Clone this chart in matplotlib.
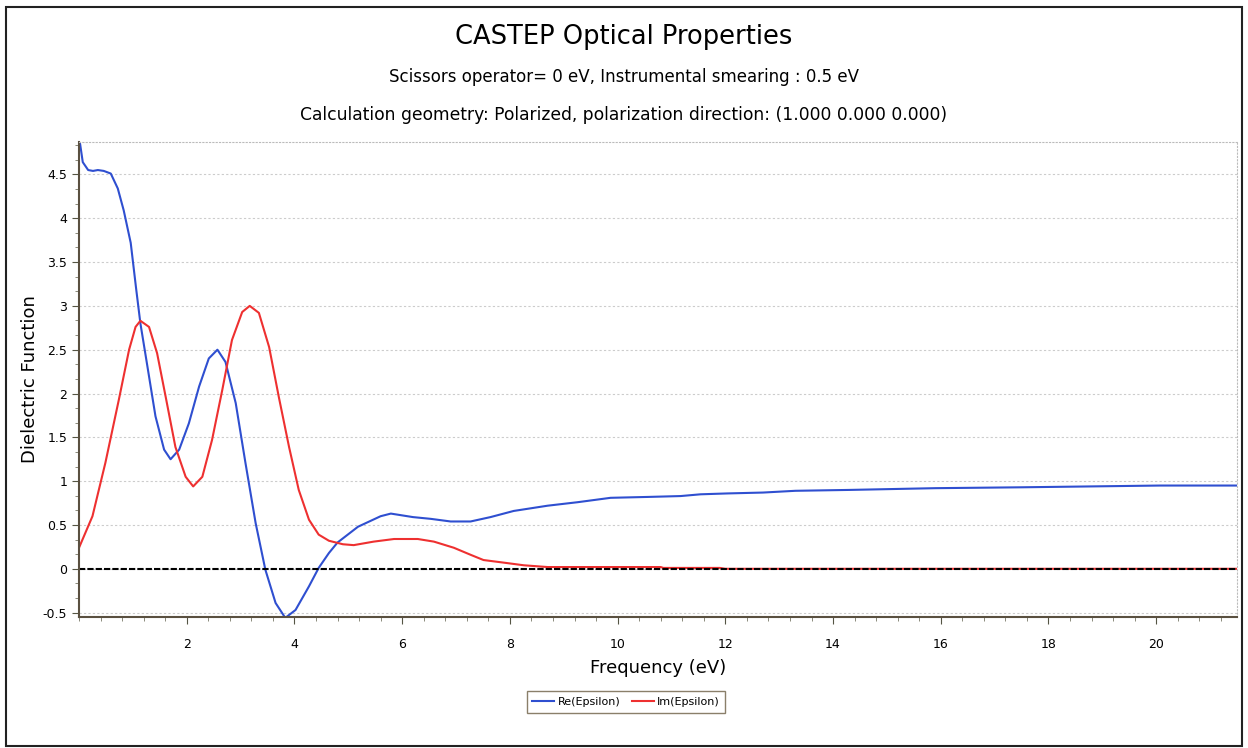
import matplotlib
matplotlib.use('Agg')
import matplotlib.pyplot as plt
from matplotlib.patches import Rectangle
from matplotlib.ticker import AutoMinorLocator

# Re(Epsilon)
re_freq = [0.0, 0.02, 0.07, 0.17, 0.26, 0.35, 0.46, 0.59, 0.72, 0.83, 0.96, 1.06, 1.14,
           1.27, 1.42, 1.58, 1.70, 1.86, 2.04, 2.23, 2.41, 2.57, 2.72, 2.91, 3.09, 3.28,
           3.46, 3.65, 3.83, 4.02, 4.27, 4.45, 4.64, 4.8, 5.18, 5.6, 5.79, 6.2, 6.53, 6.9,
           7.27, 7.64, 8.07, 8.7, 9.26, 9.87, 10.56, 11.17, 11.54, 12.04, 12.7, 13.3, 14.3,
           15.9, 17.5, 20.07, 21.5]
re_eps = [4.87, 4.85, 4.64, 4.55, 4.54, 4.55, 4.54, 4.51, 4.34, 4.09, 3.72, 3.20, 2.80,
          2.31, 1.74, 1.36, 1.25, 1.36, 1.66, 2.08, 2.40, 2.50, 2.36, 1.89, 1.21, 0.52,
          -0.01, -0.39, -0.56, -0.47, -0.20, 0.01, 0.18, 0.30, 0.48, 0.60, 0.63, 0.59, 0.57,
          0.54, 0.54, 0.59, 0.66, 0.72, 0.76, 0.81, 0.82, 0.83, 0.85, 0.86, 0.87, 0.89,
          0.90, 0.92, 0.93, 0.95, 0.95]

# Im(Epsilon)
im_freq = [0.0, 0.25, 0.49, 0.74, 0.93, 1.05, 1.14, 1.30, 1.45, 1.61, 1.79, 1.98, 2.12,
           2.29, 2.47, 2.66, 2.84, 3.03, 3.17, 3.34, 3.53, 3.71, 3.90, 4.08, 4.27, 4.45,
           4.64, 4.9, 5.1, 5.47, 5.85, 6.29, 6.59, 6.96, 7.27, 7.51, 7.89, 8.26, 8.7, 10.8,
           10.85, 11.9, 12.0, 21.5]
im_eps = [0.24, 0.60, 1.21, 1.93, 2.50, 2.76, 2.83, 2.76, 2.46, 1.96, 1.39, 1.05, 0.94,
          1.05, 1.47, 2.04, 2.61, 2.93, 3.00, 2.92, 2.53, 1.96, 1.39, 0.90, 0.56, 0.39,
          0.32, 0.28, 0.27, 0.31, 0.34, 0.34, 0.31, 0.24, 0.16, 0.10, 0.07, 0.04, 0.02, 0.02,
          0.01, 0.01, 0.0, 0.0]

x_ticks = [2, 4, 6, 8, 10, 12, 14, 16, 18, 20]
y_ticks = [-0.5, 0, 0.5, 1, 1.5, 2, 2.5, 3, 3.5, 4, 4.5]

fig = plt.figure(figsize=(12.48, 7.48), dpi=100)
ax = fig.add_axes([79 / 1248, 1 - 617 / 748, (1237 - 79) / 1248, (617 - 142) / 748])

# outer frame of the exported picture
fig.patches.append(Rectangle((0.005, 0.003), 0.99, 0.988, transform=fig.transFigure,
                             fill=False, edgecolor='#222222', linewidth=1.5))

ax.plot(re_freq, re_eps, color='#2f4fd0', linewidth=1.5, label='Re(Epsilon)')
ax.plot(im_freq, im_eps, color='#ee3030', linewidth=1.5, label='Im(Epsilon)')
ax.axhline(0, color='black', linestyle=(0, (3, 1)), linewidth=1.5)

ax.set_xlim(0, 21.5)
ax.set_ylim(-0.55, 4.87)
ax.set_xticks(x_ticks)
ax.set_yticks(y_ticks)
ax.set_yticklabels(['%g' % v for v in y_ticks])
ax.xaxis.set_minor_locator(AutoMinorLocator(5))
ax.yaxis.set_minor_locator(AutoMinorLocator(3))
ax.tick_params(which='major', length=5, labelsize=9, color='#555544')
ax.tick_params(which='minor', length=3, color='#777766')
ax.tick_params(axis='x', pad=10)

ax.grid(axis='y', color='#cccccc', linestyle=(0, (2, 2)), linewidth=0.8)
for s in ['top', 'right']:
    ax.spines[s].set_color('#bbbbbb')
    ax.spines[s].set_linestyle((0, (1, 2)))
    ax.spines[s].set_linewidth(0.8)
for s in ['left', 'bottom']:
    ax.spines[s].set_color('#5a5040')
    ax.spines[s].set_linewidth(1.5)

ax.set_xlabel('Frequency (eV)', fontsize=13, labelpad=6)
ax.set_ylabel('Dielectric Function', fontsize=13, labelpad=3)

fig.text(0.5, 1 - 37 / 748, 'CASTEP Optical Properties', ha='center', va='center', fontsize=18.5)
fig.text(0.5, 1 - 77 / 748, 'Scissors operator= 0 eV, Instrumental smearing : 0.5 eV',
         ha='center', va='center', fontsize=12)
fig.text(0.5, 1 - 115 / 748, 'Calculation geometry: Polarized, polarization direction: (1.000 0.000 0.000)',
         ha='center', va='center', fontsize=12.3)

leg = fig.legend(loc='center', bbox_to_anchor=(626 / 1248, 1 - 702 / 748), ncol=2,
                 fontsize=8, handlelength=2, handletextpad=0.3, columnspacing=1.0,
                 fancybox=False, framealpha=1, borderpad=0.5)
leg.get_frame().set_edgecolor('#8a7f6a')

fig.savefig('out.png', dpi=100)
